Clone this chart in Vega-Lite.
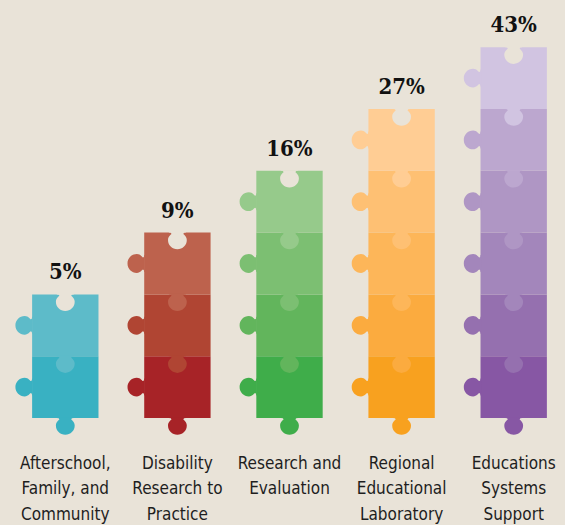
{
  "$schema": "https://vega.github.io/schema/vega-lite/v6.json",
  "width": 565,
  "height": 418,
  "autosize": {"type": "none"},
  "padding": {"left": 0, "top": 0, "right": 0, "bottom": 107},
  "background": "#e9e3d8",
  "config": {"view": {"stroke": null}},
  "datasets": {
    "pieces": [
      {"cat": "Afterschool,|Family, and|Community", "level": 0, "id": "a0"},
      {"cat": "Afterschool,|Family, and|Community", "level": 1, "id": "a1"},
      {"cat": "Disability|Research to|Practice", "level": 0, "id": "b0"},
      {"cat": "Disability|Research to|Practice", "level": 1, "id": "b1"},
      {"cat": "Disability|Research to|Practice", "level": 2, "id": "b2"},
      {"cat": "Research and|Evaluation", "level": 0, "id": "c0"},
      {"cat": "Research and|Evaluation", "level": 1, "id": "c1"},
      {"cat": "Research and|Evaluation", "level": 2, "id": "c2"},
      {"cat": "Research and|Evaluation", "level": 3, "id": "c3"},
      {"cat": "Regional|Educational|Laboratory", "level": 0, "id": "d0"},
      {"cat": "Regional|Educational|Laboratory", "level": 1, "id": "d1"},
      {"cat": "Regional|Educational|Laboratory", "level": 2, "id": "d2"},
      {"cat": "Regional|Educational|Laboratory", "level": 3, "id": "d3"},
      {"cat": "Regional|Educational|Laboratory", "level": 4, "id": "d4"},
      {"cat": "Educations|Systems|Support", "level": 0, "id": "e0"},
      {"cat": "Educations|Systems|Support", "level": 1, "id": "e1"},
      {"cat": "Educations|Systems|Support", "level": 2, "id": "e2"},
      {"cat": "Educations|Systems|Support", "level": 3, "id": "e3"},
      {"cat": "Educations|Systems|Support", "level": 4, "id": "e4"},
      {"cat": "Educations|Systems|Support", "level": 5, "id": "e5"}
    ],
    "totals": [
      {"cat": "Afterschool,|Family, and|Community", "pct": 0.05, "n": 2},
      {"cat": "Disability|Research to|Practice", "pct": 0.09, "n": 3},
      {"cat": "Research and|Evaluation", "pct": 0.16, "n": 4},
      {"cat": "Regional|Educational|Laboratory", "pct": 0.27, "n": 5},
      {"cat": "Educations|Systems|Support", "pct": 0.43, "n": 6}
    ]
  },
  "layer": [
    {
      "data": {"name": "pieces"},
      "mark": {"type": "bar", "opacity": 1},
      "encoding": {
        "x": {
          "field": "cat", "type": "nominal",
          "sort": ["Afterschool,|Family, and|Community", "Disability|Research to|Practice", "Research and|Evaluation", "Regional|Educational|Laboratory", "Educations|Systems|Support"],
          "scale": {"type": "band", "range": [9.25, 569.75], "paddingInner": 0.408, "paddingOuter": 0.204},
          "axis": {
            "title": null, "domain": false, "ticks": false, "tickSize": 0, "grid": false,
            "labelPadding": 37, "labelAngle": 0, "labelBaseline": "top",
            "labelFont": "DejaVu Sans Condensed, DejaVu Sans, sans-serif",
            "labelFontSize": 17, "labelColor": "#1e1e1e", "labelLineHeight": 25.5,
            "labelExpr": "split(datum.label, '|')", "labelOverlap": false, "labelLimit": 0
          }
        },
        "y": {"aggregate": "count", "type": "quantitative", "stack": "zero", "scale": {"domain": [0, 6.764], "nice": false, "zero": true}, "axis": null},
        "color": {
          "field": "id", "type": "nominal", "legend": null,
          "scale": {
            "domain": ["a0","a1","b0","b1","b2","c0","c1","c2","c3","d0","d1","d2","d3","d4","e0","e1","e2","e3","e4","e5"],
            "range": ["#39b1c2","#5dbbc9","#a72327","#b04533","#bd624d","#3fad4a","#62b55c","#7cbf72","#96ca8b","#f8a11f","#fbab3f","#fdb659","#fec073","#ffcd94","#8757a4","#9570af","#a386bb","#af96c4","#bca7cf","#d1c4e1"]
          }
        },
        "order": {"field": "level", "type": "quantitative"}
      }
    },
    {
      "data": {"name": "pieces"},
      "mark": {"type": "point", "filled": true, "opacity": 1, "size": 400, "strokeWidth": 0,
               "shape": "M -0.85,-0.06 L -0.85,0 Q -0.6,0 -0.6,0.12 C -0.6,0.22 -0.94,0.34 -0.94,0.74 C -0.94,1.26 -0.52,1.67 0,1.67 C 0.52,1.67 0.94,1.26 0.94,0.74 C 0.94,0.34 0.6,0.22 0.6,0.12 Q 0.6,0 0.85,0 L 0.85,-0.06 Z"},
      "encoding": {
        "x": {"field": "cat", "type": "nominal", "sort": ["Afterschool,|Family, and|Community", "Disability|Research to|Practice", "Research and|Evaluation", "Regional|Educational|Laboratory", "Educations|Systems|Support"]},
        "y": {"field": "level", "type": "quantitative", "axis": null},
        "color": {"field": "id", "type": "nominal", "legend": null}
      }
    },
    {
      "data": {"name": "pieces"},
      "mark": {"type": "point", "filled": true, "opacity": 1, "size": 400, "strokeWidth": 0, "angle": 90, "xOffset": -33.2, "yOffset": -30.9,
               "shape": "M -0.85,-0.06 L -0.85,0 Q -0.6,0 -0.6,0.12 C -0.6,0.22 -0.94,0.34 -0.94,0.74 C -0.94,1.26 -0.52,1.67 0,1.67 C 0.52,1.67 0.94,1.26 0.94,0.74 C 0.94,0.34 0.6,0.22 0.6,0.12 Q 0.6,0 0.85,0 L 0.85,-0.06 Z"},
      "encoding": {
        "x": {"field": "cat", "type": "nominal", "sort": ["Afterschool,|Family, and|Community", "Disability|Research to|Practice", "Research and|Evaluation", "Regional|Educational|Laboratory", "Educations|Systems|Support"]},
        "y": {"field": "level", "type": "quantitative", "axis": null},
        "color": {"field": "id", "type": "nominal", "legend": null}
      }
    },
    {
      "data": {"name": "totals"},
      "mark": {"type": "point", "filled": true, "opacity": 1, "size": 400, "strokeWidth": 0, "color": "#e9e3d8",
               "shape": "M -0.85,-0.06 L -0.85,0 Q -0.6,0 -0.6,0.12 C -0.6,0.22 -0.94,0.34 -0.94,0.74 C -0.94,1.26 -0.52,1.67 0,1.67 C 0.52,1.67 0.94,1.26 0.94,0.74 C 0.94,0.34 0.6,0.22 0.6,0.12 Q 0.6,0 0.85,0 L 0.85,-0.06 Z"},
      "encoding": {
        "x": {"field": "cat", "type": "nominal", "sort": ["Afterschool,|Family, and|Community", "Disability|Research to|Practice", "Research and|Evaluation", "Regional|Educational|Laboratory", "Educations|Systems|Support"]},
        "y": {"field": "n", "type": "quantitative", "axis": null}
      }
    },
    {
      "data": {"name": "totals"},
      "mark": {"type": "text", "dy": -15, "baseline": "alphabetic", "align": "center",
               "font": "DejaVu Serif Condensed, DejaVu Serif, serif", "fontWeight": "bold", "fontSize": 22, "color": "#111111"},
      "encoding": {
        "x": {"field": "cat", "type": "nominal", "sort": ["Afterschool,|Family, and|Community", "Disability|Research to|Practice", "Research and|Evaluation", "Regional|Educational|Laboratory", "Educations|Systems|Support"]},
        "y": {"field": "n", "type": "quantitative", "axis": null},
        "text": {"field": "pct", "type": "quantitative", "format": ".0%"}
      }
    }
  ]
}
